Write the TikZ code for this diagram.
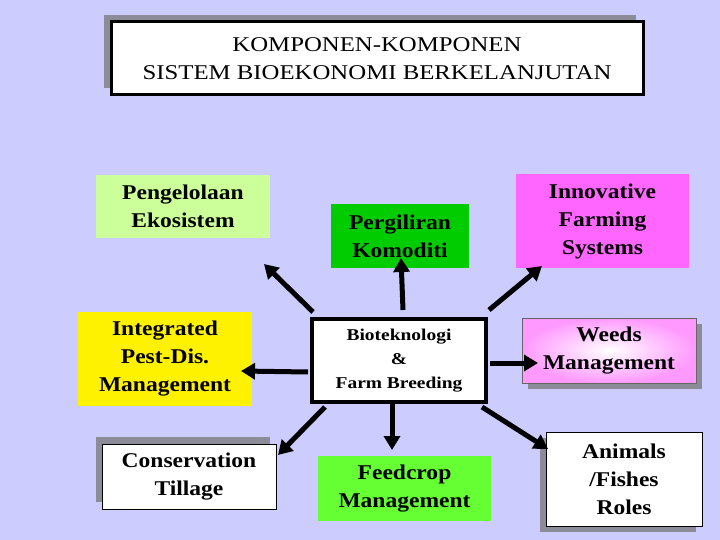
\documentclass[tikz,border=0pt]{standalone}
\usepackage{fontspec}
\setmainfont{Liberation Serif}
\newfontfamily\wideserif[FakeStretch=1.18]{Liberation Serif}
\newfontfamily\wideboxes[FakeStretch=1.12]{Liberation Serif}
\usetikzlibrary{arrows.meta,shadings}
\definecolor{bg}{HTML}{CCCCFF}
\definecolor{lgreen}{HTML}{CCFF99}
\definecolor{dgreen}{HTML}{00CC00}
\definecolor{magent}{HTML}{FF66FF}
\definecolor{fgreen}{HTML}{66FF33}
\definecolor{pinkw}{HTML}{FF99FF}
\definecolor{shad}{HTML}{8C8C99}
\begin{document}
\begin{tikzpicture}[x=1pt,y=-1pt,
 box/.style={draw=none,inner sep=0pt,align=center,font=\wideboxes\fontsize{21}{28}\selectfont\bfseries},
 arr/.style={line width=5pt,-{Triangle[length=14pt,width=16pt]}}]
\fill[bg] (0,0) rectangle (720,540);
\useasboundingbox (0,0) rectangle (720,540);
% title
\fill[shad] (104,15) rectangle (636,88);
\node[draw=black,line width=3pt,fill=white,minimum width=532pt,minimum height=73pt,align=center,
 font=\wideserif\fontsize{21}{28}\selectfont] (title) at (377,58.5) {KOMPONEN-KOMPONEN\\SISTEM BIOEKONOMI BERKELANJUTAN};
% boxes
\node[box,fill=lgreen,minimum width=174pt,minimum height=63pt] (eko) at (183,206.5) {Pengelolaan\\Ekosistem};
\node[box,fill=dgreen,minimum width=138pt,minimum height=64pt] (kom) at (400,236) {Pergiliran\\Komoditi};
\node[box,fill=magent,minimum width=173pt,minimum height=94pt] (ifs) at (602.5,221) {Innovative\\Farming\\Systems};
\node[box,fill=yellow,minimum width=174pt,minimum height=94pt] (ipm) at (165,359) {Integrated\\Pest-Dis.\\Management};
\node[draw=black,line width=4pt,fill=white,minimum width=174pt,minimum height=83pt,inner sep=0pt,align=center,
 font=\wideserif\fontsize{16.5}{24}\selectfont\bfseries] (bio) at (399,360.5) {Bioteknologi\\\&\\Farm Breeding};
\fill[shad] (528,324) rectangle (702,389);
\node[box,draw=black!60,line width=0.6pt,inner color=white,outer color=pinkw,minimum width=174pt,minimum height=65pt] (weed) at (609,350.5) {Weeds\\Management};
\fill[shad] (96,437) rectangle (270,502);
\node[box,draw=black,line width=0.6pt,fill=white,minimum width=174pt,minimum height=65pt] (till) at (189,476.5) {Conservation\\Tillage};
\node[box,fill=fgreen,minimum width=173pt,minimum height=65pt] (feed) at (404.5,488.5) {Feedcrop\\Management};
\fill[shad] (540,438) rectangle (696,532);
\node[box,draw=black,line width=0.6pt,fill=white,minimum width=156pt,minimum height=94pt] (anim) at (624,479) {Animals\\/Fishes\\Roles};
% connector endpoints
\coordinate (s1) at (313,312); \coordinate (e1) at (264,264);
\coordinate (s2) at (403,310); \coordinate (e2) at (401,258);
\coordinate (s3) at (489,310); \coordinate (e3) at (542,266);
\coordinate (s4) at (308,372); \coordinate (e4) at (241,371);
\coordinate (s5) at (490,363); \coordinate (e5) at (538,363);
\coordinate (s6) at (325,407); \coordinate (e6) at (278,455);
\coordinate (s7) at (392,404); \coordinate (e7) at (392,450);
\coordinate (s8) at (482,407); \coordinate (e8) at (548,449);
\foreach \i in {1,...,8} \draw[arr] (s\i) -- (e\i);
\end{tikzpicture}
\end{document}
